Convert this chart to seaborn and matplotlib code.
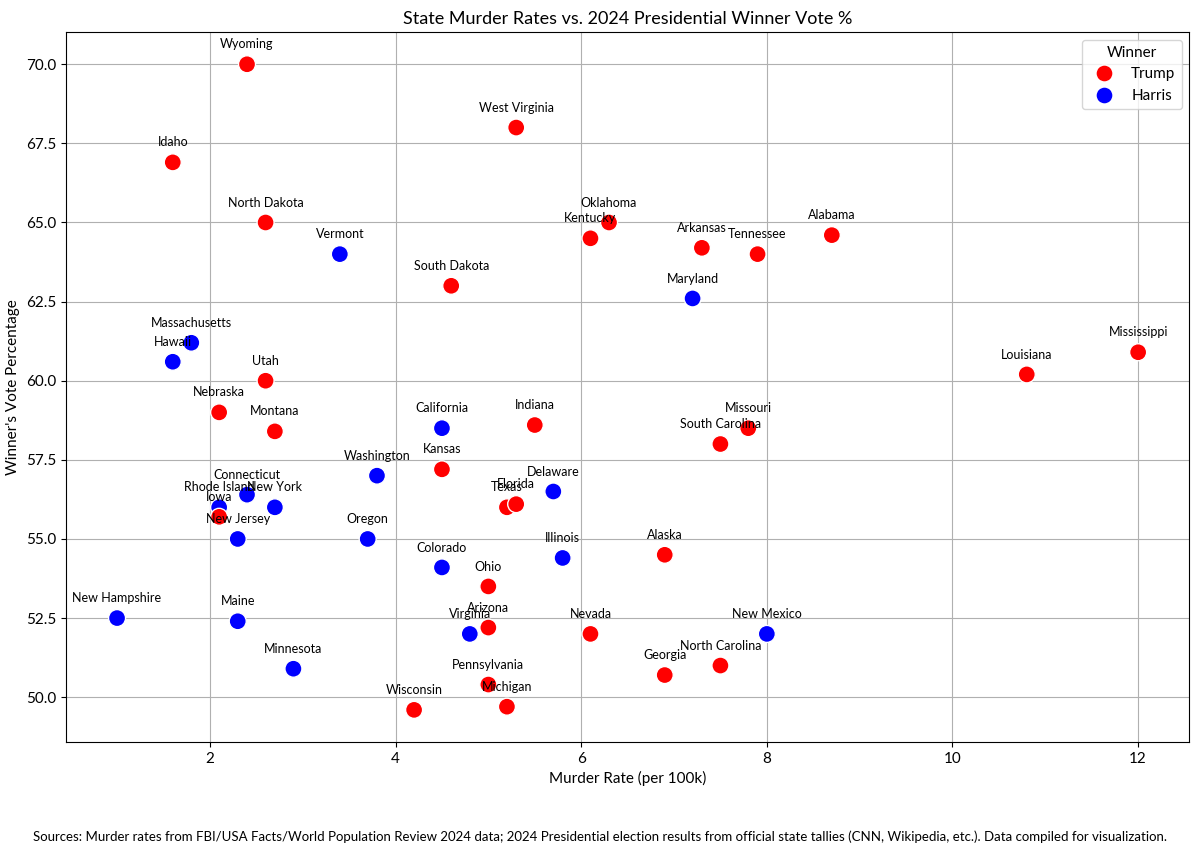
import matplotlib
matplotlib.use("Agg")
import matplotlib.pyplot as plt
import seaborn as sns
import pandas as pd

states = ["Wyoming", "West Virginia", "Idaho", "North Dakota", "Vermont", "Oklahoma",
          "Kentucky", "Arkansas", "Tennessee", "Alabama", "South Dakota", "Maryland",
          "Mississippi", "Louisiana", "Massachusetts", "Hawaii", "Utah", "Nebraska",
          "Montana", "California", "Indiana", "Missouri", "South Carolina", "Washington",
          "Kansas", "Connecticut", "New York", "Rhode Island", "Iowa", "New Jersey",
          "Oregon", "Colorado", "Texas", "Florida", "Delaware", "Illinois", "Alaska",
          "Ohio", "Arizona", "Virginia", "Nevada", "New Mexico", "North Carolina",
          "Georgia", "Pennsylvania", "Michigan", "Wisconsin", "New Hampshire", "Maine",
          "Minnesota"]
murder_rate = [2.4, 5.3, 1.6, 2.6, 3.4, 6.3,
               6.1, 7.3, 7.9, 8.7, 4.6, 7.2,
               12.0, 10.8, 1.8, 1.6, 2.6, 2.1,
               2.7, 4.5, 5.5, 7.8, 7.5, 3.8,
               4.5, 2.4, 2.7, 2.1, 2.1, 2.3,
               3.7, 4.5, 5.2, 5.3, 5.7, 5.8, 6.9,
               5.0, 5.0, 4.8, 6.1, 8.0, 7.5,
               6.9, 5.0, 5.2, 4.2, 1.0, 2.3,
               2.9]
vote_pct = [70.0, 68.0, 66.9, 65.0, 64.0, 65.0,
            64.5, 64.2, 64.0, 64.6, 63.0, 62.6,
            60.9, 60.2, 61.2, 60.6, 60.0, 59.0,
            58.4, 58.5, 58.6, 58.5, 58.0, 57.0,
            57.2, 56.4, 56.0, 56.0, 55.7, 55.0,
            55.0, 54.1, 56.0, 56.1, 56.5, 54.4, 54.5,
            53.5, 52.2, 52.0, 52.0, 52.0, 51.0,
            50.7, 50.4, 49.7, 49.6, 52.5, 52.4,
            50.9]
winner = ["Trump", "Trump", "Trump", "Trump", "Harris", "Trump",
          "Trump", "Trump", "Trump", "Trump", "Trump", "Harris",
          "Trump", "Trump", "Harris", "Harris", "Trump", "Trump",
          "Trump", "Harris", "Trump", "Trump", "Trump", "Harris",
          "Trump", "Harris", "Harris", "Harris", "Trump", "Harris",
          "Harris", "Harris", "Trump", "Trump", "Harris", "Harris", "Trump",
          "Trump", "Trump", "Harris", "Trump", "Harris", "Trump",
          "Trump", "Trump", "Trump", "Trump", "Harris", "Harris",
          "Harris"]

df = pd.DataFrame({"State": states, "Murder Rate": murder_rate,
                   "Vote %": vote_pct, "Winner": winner})

plt.rcParams['font.family'] = ['Lato', 'DejaVu Sans']

fig = plt.figure(figsize=(12, 8.55), dpi=100)
ax = fig.add_axes([0.055, 0.132, 0.936, 0.8306])

sns.scatterplot(data=df, x="Murder Rate", y="Vote %", hue="Winner",
                palette={"Trump": "red", "Harris": "blue"},
                hue_order=["Trump", "Harris"], s=150, ax=ax, zorder=3)

for i in range(len(df)):
    ax.annotate(df["State"][i], (df["Murder Rate"][i], df["Vote %"][i]),
                xytext=(0, 10), textcoords="offset points",
                ha="center", va="bottom", fontsize=9, zorder=4)

ax.grid(True, color="#b0b0b0", linewidth=0.8)
ax.set_axisbelow(True)
ax.set_title("State Murder Rates vs. 2024 Presidential Winner Vote %", fontsize=13)
ax.set_xlabel("Murder Rate (per 100k)", fontsize=11)
ax.set_ylabel("Winner's Vote Percentage", fontsize=11)
ax.tick_params(labelsize=11)
ax.legend(title="Winner", loc="upper right", fontsize=11, title_fontsize=11)

fig.text(0.5, 0.021, "Sources: Murder rates from FBI/USA Facts/World Population Review 2024 data; "
         "2024 Presidential election results from official state tallies (CNN, Wikipedia, etc.). "
         "Data compiled for visualization.", ha="center", va="center", fontsize=9.5)

fig.savefig("out.png", dpi=100)
